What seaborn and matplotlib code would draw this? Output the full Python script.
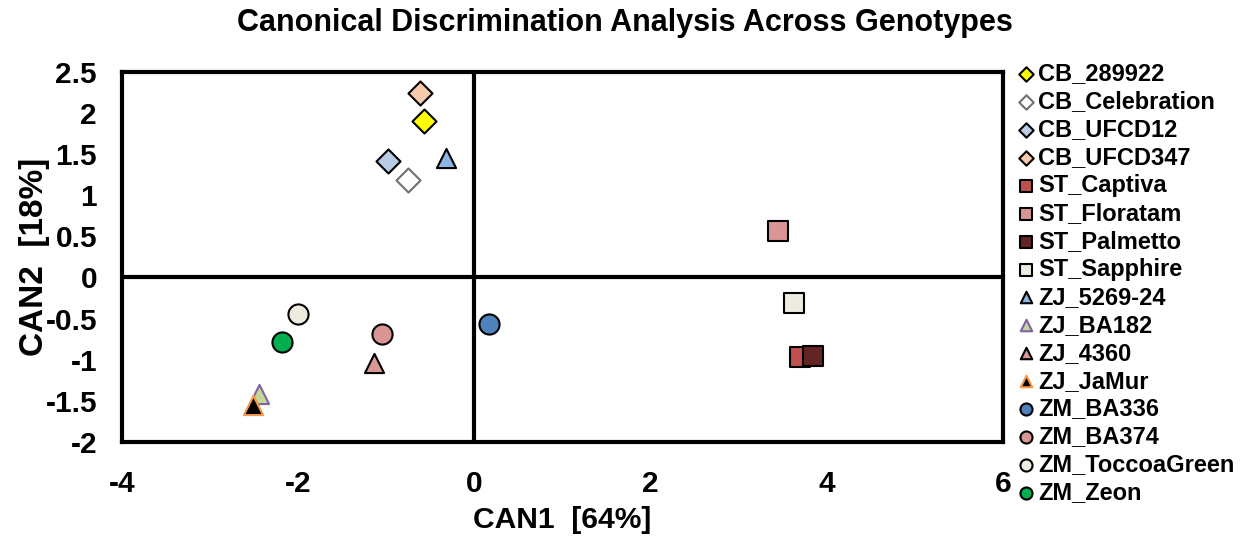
import matplotlib
matplotlib.use("Agg")
import matplotlib.pyplot as plt
import seaborn as sns
import pandas as pd

genotypes = ["CB_289922", "CB_Celebration", "CB_UFCD12", "CB_UFCD347",
             "ST_Captiva", "ST_Floratam", "ST_Palmetto", "ST_Sapphire",
             "ZJ_5269-24", "ZJ_BA182", "ZJ_4360", "ZJ_JaMur",
             "ZM_BA336", "ZM_BA374", "ZM_ToccoaGreen", "ZM_Zeon"]
can1 = [-0.57, -0.75, -0.98, -0.62,
        3.70, 3.45, 3.84, 3.63,
        -0.32, -2.44, -1.14, -2.51,
        0.17, -1.05, -2.00, -2.18]
can2 = [1.90, 1.19, 1.42, 2.24,
        -0.97, 0.57, -0.95, -0.31,
        1.45, -1.42, -1.04, -1.55,
        -0.57, -0.69, -0.44, -0.78]
markers = ["D", "D", "D", "D", "s", "s", "s", "s",
           "^", "^", "^", "^", "o", "o", "o", "o"]
fills = ["#FFFF00", "#FFFFFF", "#B8CCE4", "#F8CBAD",
         "#C0504D", "#DA9694", "#632523", "#EEECE1",
         "#8DB4E2", "#C4D79B", "#DA9694", "#000000",
         "#4F81BD", "#DA9694", "#EEECE1", "#00B050"]
edges = ["#000000", "#707070", "#000000", "#000000",
         "#000000", "#000000", "#000000", "#000000",
         "#000000", "#8064A2", "#000000", "#F79646",
         "#000000", "#000000", "#000000", "#000000"]
sizes = [150, 150, 150, 150, 190, 190, 190, 190,
         190, 190, 190, 190, 210, 210, 210, 210]
xticks = [-4, -2, 0, 2, 4, 6]
yticks = [-2, -1.5, -1, -0.5, 0, 0.5, 1, 1.5, 2, 2.5]
ytick_labels = ["-2", "-1.5", "-1", "-0.5", "0", "0.5", "1", "1.5", "2", "2.5"]

df = pd.DataFrame({"genotype": genotypes, "CAN1": can1, "CAN2": can2})

sns.set_style("white")
plt.rcParams["font.family"] = ["Liberation Sans", "DejaVu Sans"]
plt.rcParams["font.weight"] = "bold"
plt.rcParams["text.color"] = "black"
plt.rcParams["axes.labelcolor"] = "black"
plt.rcParams["xtick.color"] = "black"
plt.rcParams["ytick.color"] = "black"
plt.rcParams["axes.unicode_minus"] = False

fig = plt.figure(figsize=(12.49, 5.40), dpi=100)
ax = fig.add_axes([0.0977, 0.1815, 0.7053, 0.6855])

ax.axhline(0, color="black", lw=3, zorder=1)
ax.axvline(0, color="black", lw=3, zorder=1)

for i, g in enumerate(genotypes):
    sub = df[df["genotype"] == g]
    sns.scatterplot(data=sub, x="CAN1", y="CAN2", marker=markers[i],
                    color=fills[i], edgecolor=edges[i], linewidth=1.5,
                    s=sizes[i], label=g, ax=ax, zorder=3)

ax.set_xlim(-4, 6)
ax.set_ylim(-2, 2.5)
ax.set_xticks(xticks)
ax.set_xticklabels([str(t) for t in xticks])
ax.set_yticks(yticks)
ax.set_yticklabels(ytick_labels)
ax.tick_params(axis="both", length=0, labelsize=21.5)
ax.tick_params(axis="x", pad=20)
ax.tick_params(axis="y", pad=18)
for lab in ax.get_xticklabels() + ax.get_yticklabels():
    lab.set_fontweight("bold")
for sp in ax.spines.values():
    sp.set_linewidth(3)
    sp.set_color("black")

ax.set_xlabel("CAN1  [64%]", fontsize=21.6, fontweight="bold", labelpad=6)
ax.set_ylabel("CAN2  [18%]", fontsize=24, fontweight="bold", labelpad=-3)
fig.suptitle("Canonical Discrimination Analysis Across Genotypes",
             fontsize=22, fontweight="bold", x=0.5, y=0.986)

leg = ax.legend(loc="upper left", bbox_to_anchor=(1.005, 1.052), frameon=False,
                prop={"size": 17, "weight": "bold"}, markerscale=0.6,
                handletextpad=0.1, labelspacing=0.21, borderaxespad=0,
                handlelength=0.8)

fig.savefig("out.png", dpi=100)
